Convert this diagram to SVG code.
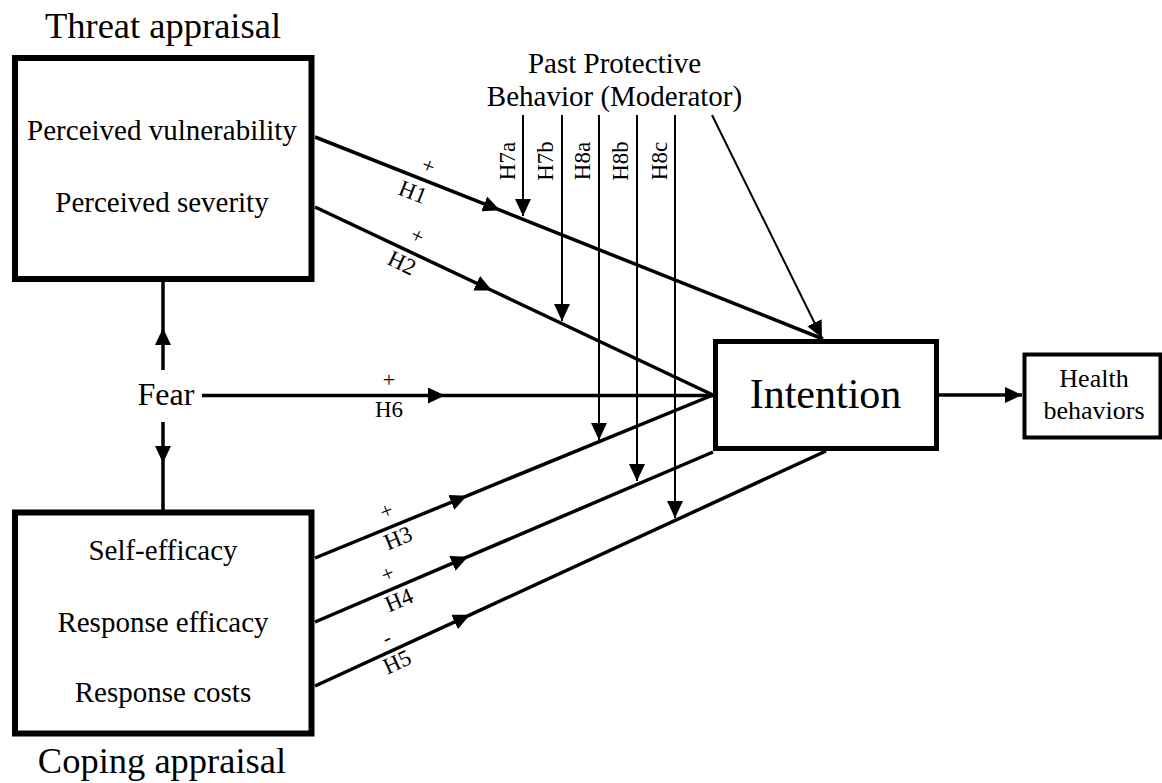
<svg xmlns="http://www.w3.org/2000/svg" width="1162" height="783" viewBox="0 0 1162 783">
<style>
text{font-family:"Liberation Serif","Times New Roman",serif;fill:#000}
.box{fill:#fff;stroke:#000}
.thick{fill:none;stroke:#000;stroke-width:3.5}
.thin{fill:none;stroke:#000;stroke-width:2}
.item{font-size:29px;text-anchor:middle}
.title{font-size:36.5px;text-anchor:middle}
.h{font-size:23px;text-anchor:middle}
.sign{font-size:22px;text-anchor:middle}
</style>
<defs>
<marker id="ah" markerUnits="userSpaceOnUse" viewBox="0 0 17 16" refX="17" refY="8" markerWidth="17" markerHeight="16" orient="auto">
<path d="M0,0 L17,8 L0,16 z" fill="#000"/>
</marker>
</defs>
<rect width="1162" height="783" fill="#fff"/>

<g id="connectors">
<path class="thick" d="M315,137 L500,210.2 L823,339" marker-mid="url(#ah)"/>
<path class="thick" d="M315,207 L492,290.5 L713,395" marker-mid="url(#ah)"/>
<path class="thick" d="M202,395.5 L445,395.5 L713,395.5" marker-mid="url(#ah)"/>
<path class="thick" d="M315,558 L467,495.8 L713,395" marker-mid="url(#ah)"/>
<path class="thick" d="M315,622 L468,556.7 L713,452" marker-mid="url(#ah)"/>
<path class="thick" d="M315,686 L470,614.8 L826,451" marker-mid="url(#ah)"/>
<path class="thick" d="M163,370 L163,328 L163,282" marker-mid="url(#ah)"/>
<path class="thick" d="M163,422 L163,463 L163,510" marker-mid="url(#ah)"/>
<path class="thick" d="M939,395 L1022,395" marker-end="url(#ah)"/>
<path class="thin" d="M523,115 L523,216" marker-end="url(#ah)"/>
<path class="thin" d="M562,115 L562,321" marker-end="url(#ah)"/>
<path class="thin" d="M599,115 L599,440" marker-end="url(#ah)"/>
<path class="thin" d="M637,115 L637,481" marker-end="url(#ah)"/>
<path class="thin" d="M675,115 L675,518" marker-end="url(#ah)"/>
<path class="thin" d="M712,115 L822,338" marker-end="url(#ah)"/>
<text class="sign" transform="translate(428,167) rotate(21.6)" y="6">+</text>
<text class="h" transform="translate(413,192) rotate(21.6)" y="7.6">H1</text>
<text class="sign" transform="translate(417,237) rotate(25.3)" y="6">+</text>
<text class="h" transform="translate(402,263) rotate(25.3)" y="7.6">H2</text>
<text class="sign" transform="translate(387,512) rotate(-22.3)" y="6">+</text>
<text class="h" transform="translate(398,538) rotate(-22.3)" y="7.6">H3</text>
<text class="sign" transform="translate(388,575) rotate(-23.1)" y="6">+</text>
<text class="h" transform="translate(399,600) rotate(-23.1)" y="7.6">H4</text>
<text class="sign" transform="translate(387,639) rotate(-24.7)" y="6">-</text>
<text class="h" transform="translate(397,662) rotate(-24.7)" y="7.6">H5</text>
<text class="sign" x="389" y="387">+</text>
<text class="h" x="389" y="417">H6</text>
<text class="h" transform="translate(515,161) rotate(-90)">H7a</text>
<text class="h" transform="translate(553,161) rotate(-90)">H7b</text>
<text class="h" transform="translate(590,161) rotate(-90)">H8a</text>
<text class="h" transform="translate(628,161) rotate(-90)">H8b</text>
<text class="h" transform="translate(667,161) rotate(-90)">H8c</text>
</g>

<g id="threat">
<text class="title" x="163" y="38">Threat appraisal</text>
<rect class="box" x="15" y="58" width="296.5" height="221" stroke-width="6"/>
<text class="item" x="162" y="140">Perceived vulnerability</text>
<text class="item" x="162" y="212">Perceived severity</text>
</g>

<g id="coping">
<rect class="box" x="15" y="512.5" width="296.5" height="221" stroke-width="6"/>
<text class="item" x="163" y="560">Self-efficacy</text>
<text class="item" x="163" y="632">Response efficacy</text>
<text class="item" x="163" y="702">Response costs</text>
<text class="title" x="162" y="773">Coping appraisal</text>
</g>

<g id="fear">
<text x="166" y="405" font-size="32" text-anchor="middle">Fear</text>
</g>

<g id="moderator">
<text class="item" x="614.5" y="73">Past Protective</text>
<text class="item" x="614.5" y="106">Behavior (Moderator)</text>
</g>

<g id="intention">
<rect class="box" x="715.5" y="341.5" width="221" height="107" stroke-width="5"/>
<text x="825.5" y="408" font-size="42" text-anchor="middle">Intention</text>
</g>

<g id="health">
<rect class="box" x="1024.5" y="354.5" width="136" height="83" stroke-width="4"/>
<text x="1094" y="387" font-size="26" text-anchor="middle">Health</text>
<text x="1094" y="419" font-size="26" text-anchor="middle">behaviors</text>
</g>
</svg>
